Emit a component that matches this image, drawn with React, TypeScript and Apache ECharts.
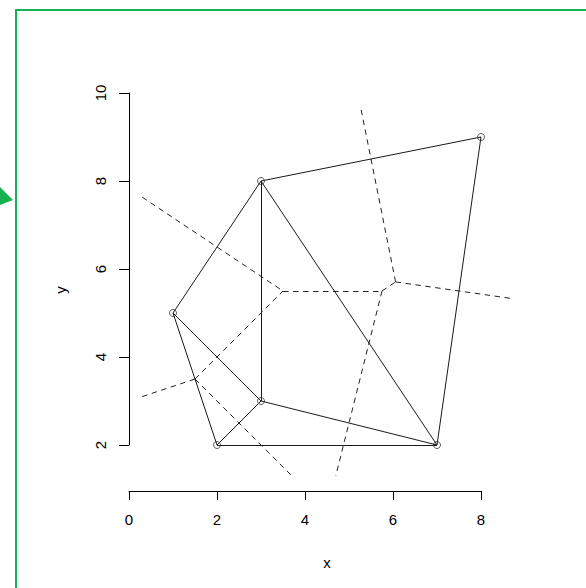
import React, { useEffect, useRef } from "react";
import * as echarts from "echarts";

// Data points (generators)
const pointsX = [1, 2, 3, 3, 7, 8];
const pointsY = [5, 2, 3, 8, 2, 9];

// Delaunay triangulation edges (indices into points)
const delaunayEdges: [number, number][] = [
  [0, 1], [0, 2], [0, 3], [1, 2], [1, 4], [2, 3], [2, 4], [3, 4], [3, 5], [4, 5],
];

// Voronoi (Dirichlet) tessellation edges: [x1, y1, x2, y2]
const voronoiEdges: [number, number, number, number][] = [
  [0.3, 3.1, 1.5, 3.5],
  [1.5, 3.5, 3.5, 5.5],
  [1.5, 3.5, 3.7, 1.3],
  [0.3, 7.633, 3.5, 5.5],
  [3.5, 5.5, 5.75, 5.5],
  [5.75, 5.5, 6.059, 5.706],
  [5.75, 5.5, 4.7, 1.3],
  [6.059, 5.706, 5.26, 9.7],
  [6.059, 5.706, 8.7, 5.329],
];

const xRange = [0, 8];
const yRange = [2, 10];
const tickStep = 2;

const FONT = "'Liberation Sans', Arial, sans-serif";

export default function App() {
  const ref = useRef<HTMLDivElement>(null);
  useEffect(() => {
    if (!ref.current) return;
    const chart = echarts.init(ref.current, undefined, { renderer: "svg" });
    const green = "#17b152";
    chart.setOption({
      animation: false,
      backgroundColor: "#ffffff",
      textStyle: { fontFamily: FONT },
      grid: { left: 129, right: 105, top: 93, bottom: 143 },
      xAxis: {
        type: "value",
        min: xRange[0],
        max: xRange[1],
        interval: tickStep,
        offset: 46,
        splitLine: { show: false },
        axisLine: { show: true, lineStyle: { color: "#000", width: 1 } },
        axisTick: { show: true, length: 9, lineStyle: { color: "#000", width: 1 } },
        axisLabel: { color: "#000", fontSize: 15, margin: 21, fontFamily: FONT },
        name: "x",
        nameLocation: "middle",
        nameGap: 64,
        nameTextStyle: { color: "#000", fontSize: 15, fontFamily: FONT, padding: [0, 0, 0, 44] },
      },
      yAxis: {
        type: "value",
        min: yRange[0],
        max: yRange[1],
        interval: tickStep,
        offset: 1,
        splitLine: { show: false },
        axisLine: { show: true, lineStyle: { color: "#000", width: 1 } },
        axisTick: { show: true, length: 10, lineStyle: { color: "#000", width: 1 } },
        axisLabel: { color: "#000", fontSize: 15, margin: 20, rotate: 90, fontFamily: FONT },
        name: "y",
        nameLocation: "middle",
        nameRotate: 90,
        nameGap: 60,
        nameTextStyle: { color: "#000", fontSize: 15, fontFamily: FONT, padding: [0, 42, 0, 0] },
      },
      series: [
        {
          type: "lines",
          coordinateSystem: "cartesian2d",
          clip: false,
          silent: true,
          lineStyle: { color: "#222", width: 1, type: [5.5, 4.5], opacity: 1 },
          data: voronoiEdges.map((e) => ({ coords: [[e[0], e[1]], [e[2], e[3]]] })),
        },
        {
          type: "lines",
          coordinateSystem: "cartesian2d",
          clip: false,
          silent: true,
          lineStyle: { color: "#1a1a1a", width: 1, type: "solid", opacity: 1 },
          data: delaunayEdges.map(([a, b]) => ({
            coords: [[pointsX[a], pointsY[a]], [pointsX[b], pointsY[b]]],
          })),
        },
        {
          type: "scatter",
          clip: false,
          symbol: "circle",
          symbolSize: 7,
          itemStyle: { color: "rgba(255,255,255,0)", borderColor: "#333", borderWidth: 1 },
          data: pointsX.map((x, i) => [x, pointsY[i]]),
        },
      ],
      graphic: [
        { type: "line", shape: { x1: 16, y1: 10, x2: 16, y2: 588 }, style: { stroke: green, lineWidth: 2 } },
        { type: "line", shape: { x1: 15, y1: 10, x2: 586, y2: 10 }, style: { stroke: green, lineWidth: 2 } },
        { type: "polygon", shape: { points: [[0, 187], [13, 200], [0, 205]] }, style: { fill: green } },
      ],
    });
    return () => chart.dispose();
  }, []);
  return (
    <div
      ref={ref}
      style={{ position: "fixed", left: 0, top: 0, width: 586, height: 588, background: "#fff" }}
    />
  );
}
